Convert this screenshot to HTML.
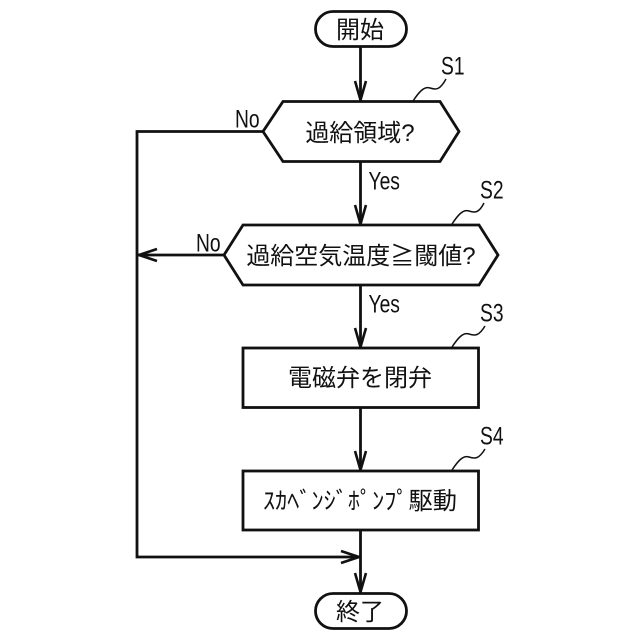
<!DOCTYPE html>
<html><head><meta charset="utf-8"><style>
html,body{margin:0;padding:0;background:#fff}
svg{display:block}
text{font-family:"Liberation Sans","Noto Sans CJK JP",sans-serif;fill:#111}
.j{font-size:24px;text-anchor:middle}
.l{font-size:25px}
</style></head><body>
<svg width="640" height="640" viewBox="0 0 640 640" xmlns="http://www.w3.org/2000/svg">
<rect width="640" height="640" fill="#fff"/>
<g fill="none" stroke="#111" stroke-width="2.8" stroke-linejoin="miter">
<rect x="315.500" y="11.500" width="91" height="35" rx="17.500"/>
<polygon points="263,131.500 283,101.500 440,101.500 459,131.500 440,161.500 283,161.500"/>
<polygon points="224,255 243,225 479,225 498,255 479,285 243,285"/>
<rect x="243" y="348" width="235.500" height="59.500"/>
<rect x="243" y="471" width="235.500" height="59"/>
<rect x="315.500" y="593.500" width="91" height="35" rx="17.500"/>
<path d="M360.500 47V101M360.500 162V225M360.500 285V348M360.500 408V471M360.500 530V593"/>
<path d="M263 131.500H137V557H360.500M224 255H137"/>
</g>
<g fill="none" stroke="#111" stroke-width="2.6" stroke-linejoin="bevel">
<path d="M355 81L360.500 100L366 81M355 205L360.500 224L366 205M355 328L360.500 347L366 328M355 451L360.500 470L366 451M355 573L360.500 592L366 573"/>
<path d="M157 249L139 255L157 261M341 551L359 557L341 563"/>
</g>
<g fill="none" stroke="#111" stroke-width="1.500">
<path d="M413 101C419 92 424 86 430 88C436 90 440 90 446 79"/>
<path d="M452 224C458 215 463 209 469 211C475 213 479 213 484 203"/>
<path d="M452 347C458 338 463 332 469 334C475 336 479 336 485 326"/>
<path d="M452 470C458 461 463 455 469 457C475 459 479 459 485 449"/>
</g>
<text class="j" x="360" y="38">開始</text>
<text class="j" x="360" y="141">過給領域?</text>
<text class="j" x="361" y="264">過給空気温度≧閾値?</text>
<text class="j" x="360" y="386">電磁弁を閉弁</text>
<text class="j" x="360" y="509" textLength="194" lengthAdjust="spacingAndGlyphs">ｽｶﾍﾞﾝｼﾞﾎﾟﾝﾌﾟ駆動</text>
<text class="j" x="360" y="620">終了</text>
<g class="l">
<text transform="translate(235,127.500) scale(.77,1)">No</text>
<text transform="translate(196,251.500) scale(.77,1)">No</text>
<text transform="translate(368.500,189.500) scale(.77,1)">Yes</text>
<text transform="translate(368.500,312.500) scale(.77,1)">Yes</text>
<text transform="translate(441,74.500) scale(.77,1)">S1</text>
<text transform="translate(480,198.500) scale(.77,1)">S2</text>
<text transform="translate(480,321.500) scale(.77,1)">S3</text>
<text transform="translate(480,444.500) scale(.77,1)">S4</text>
</g>
</svg>
</body></html>
